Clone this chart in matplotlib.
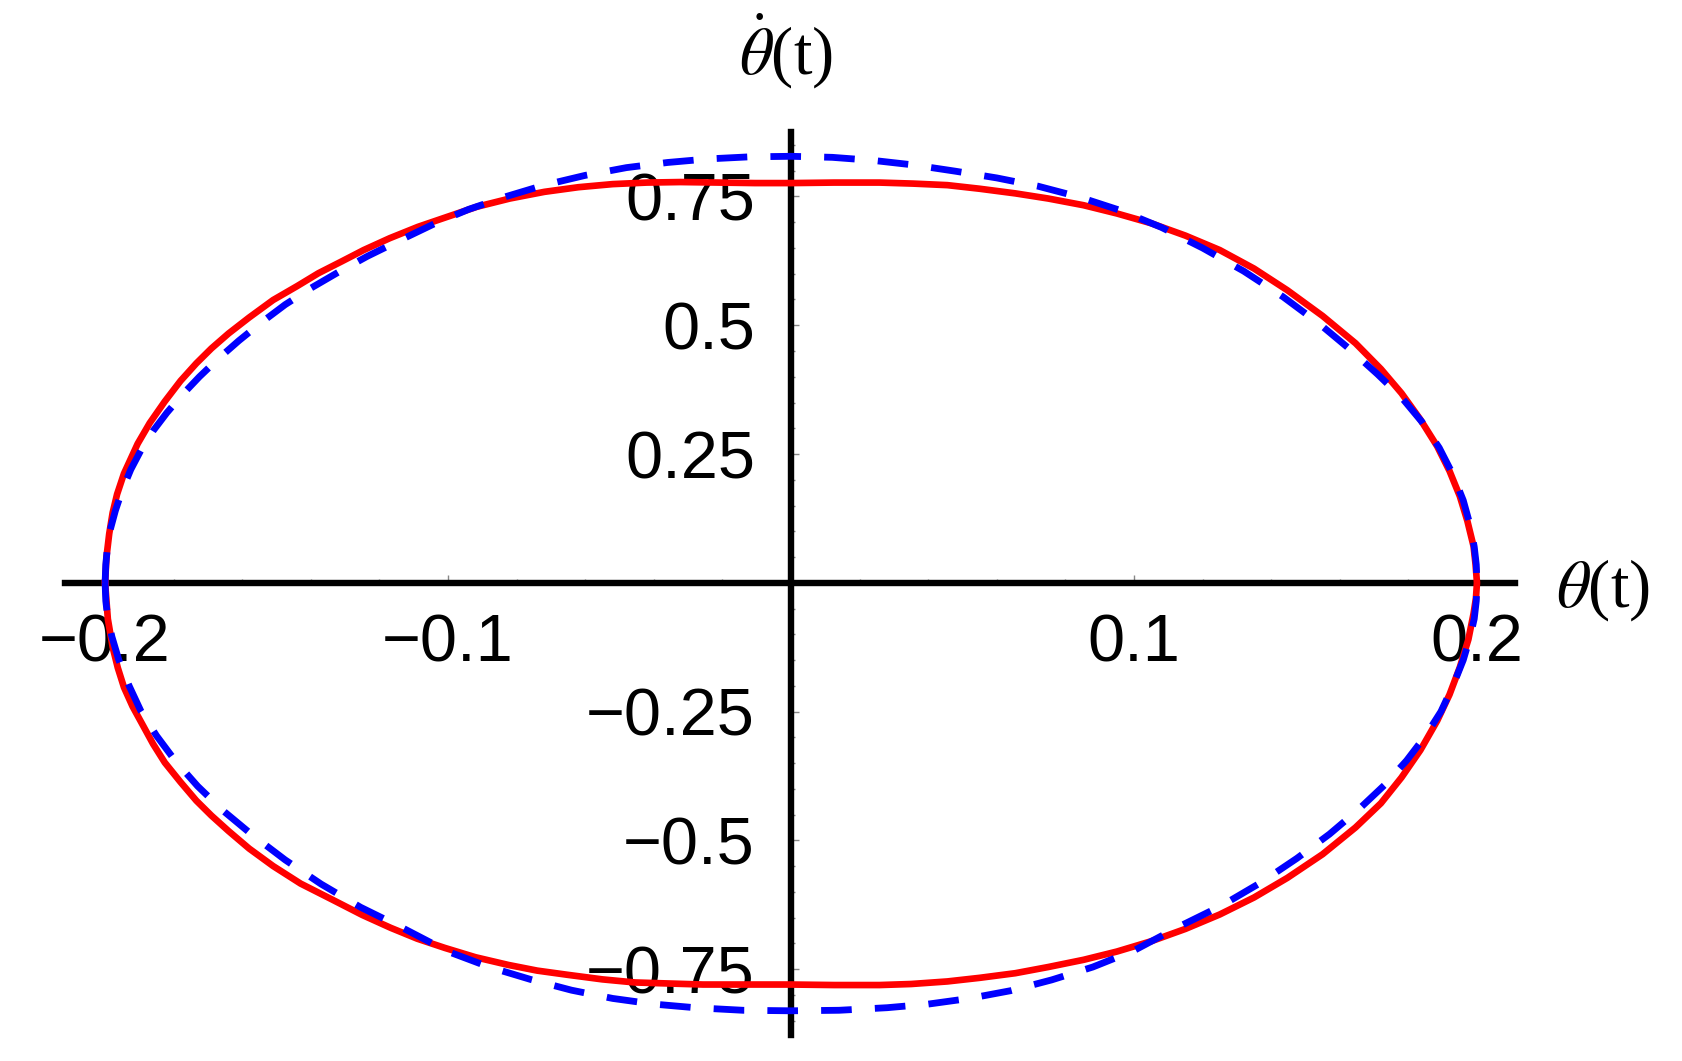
import matplotlib
matplotlib.use("Agg")
import matplotlib.pyplot as plt
from matplotlib.ticker import FixedLocator, FixedFormatter, MultipleLocator

# phase portrait: approximate solution (red) vs. linear solution (blue dashed)
# values, upper branch left->right,
# lower branch right->left
red_up_theta = [-0.2, -0.1996, -0.1988, -0.1978, -0.1965, -0.1945, -0.1905,
                -0.187, -0.1826, -0.178, -0.1734, -0.169, -0.164, -0.158,
                -0.151, -0.144, -0.1378, -0.131, -0.1246, -0.117, -0.1088,
                -0.1, -0.0916, -0.082, -0.0719, -0.062, -0.052, -0.042,
                -0.0323, -0.021, -0.0105, 0.0, 0.0126, 0.0258, 0.0356, 0.0456,
                0.055, 0.0654, 0.075, 0.0853, 0.095, 0.105, 0.115, 0.125,
                0.135, 0.1447, 0.155, 0.1646, 0.172, 0.178, 0.1835, 0.1884,
                0.192, 0.195, 0.1972, 0.199, 0.1996, 0.2]
red_up_omega = [0.0, 0.05, 0.095, 0.136, 0.172, 0.212, 0.27,
                0.31, 0.352, 0.392, 0.426, 0.455, 0.484, 0.515,
                0.549, 0.576, 0.601, 0.624, 0.646, 0.669, 0.691,
                0.711, 0.730, 0.746, 0.759, 0.768, 0.774, 0.777,
                0.778, 0.777, 0.776, 0.776, 0.777, 0.777, 0.775, 0.772,
                0.765, 0.756, 0.746, 0.733, 0.717, 0.698, 0.674, 0.646,
                0.61, 0.568, 0.518, 0.465, 0.415, 0.368, 0.317, 0.265,
                0.217, 0.168, 0.12, 0.071, 0.035, 0.0]

red_lo_theta = [0.2, 0.1997, 0.199, 0.1975, 0.195, 0.192, 0.1884, 0.1835,
                0.178, 0.172, 0.1646, 0.155, 0.1447, 0.135, 0.125, 0.115,
                0.105, 0.095, 0.0853, 0.075, 0.0654, 0.055, 0.0456, 0.035,
                0.0258, 0.0126, 0.0, -0.0125, -0.0257, -0.0455, -0.055,
                -0.0653, -0.074, -0.0824, -0.092, -0.1009, -0.109, -0.1167,
                -0.125, -0.1338, -0.143, -0.151, -0.158, -0.164, -0.169,
                -0.1734, -0.178, -0.1826, -0.186, -0.1892, -0.192, -0.1945,
                -0.1963, -0.1978, -0.1992, -0.2]
red_lo_omega = [0.0, -0.03, -0.060, -0.11, -0.164, -0.217, -0.268, -0.325,
                -0.378, -0.428, -0.475, -0.527, -0.573, -0.611, -0.644, -0.672,
                -0.696, -0.716, -0.732, -0.746, -0.758, -0.767, -0.774, -0.779,
                -0.781, -0.781, -0.780, -0.780, -0.780, -0.776, -0.770,
                -0.761, -0.753, -0.742, -0.727, -0.709, -0.691, -0.670,
                -0.645, -0.615, -0.584, -0.55, -0.516, -0.482, -0.452,
                -0.423, -0.387, -0.349, -0.313, -0.274, -0.24, -0.203,
                -0.165, -0.125, -0.07, 0.0]

blue_up_theta = [-0.2, -0.1998, -0.1993, -0.1985, -0.197, -0.195, -0.1925,
                 -0.1895, -0.186, -0.182, -0.1775, -0.1725, -0.167, -0.161,
                 -0.1545, -0.1475, -0.14, -0.132, -0.1235, -0.114, -0.104,
                 -0.094, -0.083, -0.072, -0.06, -0.048, -0.036, -0.024, -0.012,
                 0.0, 0.012, 0.024, 0.036, 0.048, 0.06, 0.072, 0.084, 0.096,
                 0.108, 0.12, 0.132, 0.1435, 0.154, 0.163, 0.171, 0.178, 0.184,
                 0.189, 0.193, 0.196, 0.198, 0.1992, 0.1998, 0.2]
blue_up_omega = [0.0, 0.035, 0.07, 0.103, 0.14, 0.18, 0.22,
                 0.258, 0.295, 0.33, 0.365, 0.40, 0.435, 0.47,
                 0.505, 0.54, 0.572, 0.603, 0.634, 0.665, 0.697,
                 0.725, 0.75, 0.772, 0.791, 0.806, 0.816, 0.823, 0.827,
                 0.828, 0.826, 0.82, 0.811, 0.799, 0.786, 0.77, 0.749, 0.723,
                 0.69, 0.65, 0.605, 0.555, 0.503, 0.453, 0.405, 0.36, 0.312,
                 0.262, 0.21, 0.16, 0.112, 0.07, 0.035, 0.0]

blue_lo_theta = [0.2, 0.1998, 0.1992, 0.198, 0.196, 0.193, 0.1895, 0.185,
                 0.1795, 0.173, 0.1655, 0.157, 0.1475, 0.137, 0.1255, 0.113,
                 0.1, 0.088, 0.076, 0.064, 0.052, 0.04, 0.028, 0.014, 0.0,
                 -0.014, -0.028, -0.04, -0.052, -0.064, -0.076, -0.088, -0.1,
                 -0.113, -0.1255, -0.137, -0.1475, -0.157, -0.1655, -0.173,
                 -0.1795, -0.185, -0.1895, -0.193, -0.196, -0.198, -0.1992,
                 -0.1998, -0.2]
blue_lo_omega = [0.0, -0.035, -0.07, -0.105, -0.15, -0.2, -0.25, -0.297,
                 -0.345, -0.393, -0.44, -0.488, -0.535, -0.582, -0.627, -0.668,
                 -0.714, -0.746, -0.771, -0.792, -0.807, -0.818, -0.825, -0.830,
                 -0.831, -0.830, -0.825, -0.818, -0.807, -0.791, -0.770, -0.746,
                 -0.716, -0.671, -0.63, -0.585, -0.538, -0.49, -0.443, -0.395,
                 -0.346, -0.297, -0.25, -0.2, -0.15, -0.105, -0.07,
                 -0.035, 0.0]

x_ticks = [-0.2, -0.1, 0.1, 0.2]
x_labels = ["\u22120.2", "\u22120.1", "0.1", "0.2"]
y_ticks = [-0.75, -0.5, -0.25, 0.25, 0.5, 0.75]
y_labels = ["\u22120.75", "\u22120.5", "\u22120.25", "0.25", "0.5", "0.75"]

plt.rcParams["font.family"] = ["Liberation Sans", "DejaVu Sans"]
plt.rcParams["mathtext.fontset"] = "stix"

fig = plt.figure(figsize=(16.83, 10.61), dpi=100)
ax = fig.add_axes([0.0386, 0.0245, 0.8616, 0.851])
ax.set_xlim(-0.2117, 0.2111)
ax.set_ylim(-0.878, 0.875)

ax.plot(red_up_theta + red_lo_theta, red_up_omega + red_lo_omega,
        color="#ff0000", lw=4.8, solid_joinstyle="round", zorder=3)
ax.plot(blue_up_theta + blue_lo_theta, blue_up_omega + blue_lo_omega,
        color="#0000ff", lw=4.9, dashes=(4.5, 3.4), zorder=4)

# axes through the origin
for side in ["top", "right"]:
    ax.spines[side].set_visible(False)
ax.spines["left"].set_position("zero")
ax.spines["bottom"].set_position("zero")
for side in ["left", "bottom"]:
    ax.spines[side].set_linewidth(4.6)
    ax.spines[side].set_zorder(2)

ax.xaxis.set_major_locator(FixedLocator(x_ticks))
ax.xaxis.set_major_formatter(FixedFormatter(x_labels))
ax.xaxis.set_minor_locator(MultipleLocator(0.02))
ax.yaxis.set_major_locator(FixedLocator(y_ticks))
ax.yaxis.set_major_formatter(FixedFormatter(y_labels))
ax.yaxis.set_minor_locator(MultipleLocator(0.05))

ax.tick_params(which="both", direction="in", color="#888888", width=1.0)
ax.tick_params(which="major", length=6)
ax.tick_params(which="minor", length=3)
ax.tick_params(axis="x", which="major", labelsize=48, pad=22)
ax.tick_params(axis="y", which="major", labelsize=48, pad=26)

fig.text(0.9245, 0.444, r"$\theta$(t)", fontsize=48, family="Liberation Serif",
         ha="left", va="center")
fig.text(0.467, 0.952, r"$\dot{\theta}$(t)", fontsize=48, family="Liberation Serif",
         ha="center", va="center")

fig.savefig("out.png", dpi=100)
